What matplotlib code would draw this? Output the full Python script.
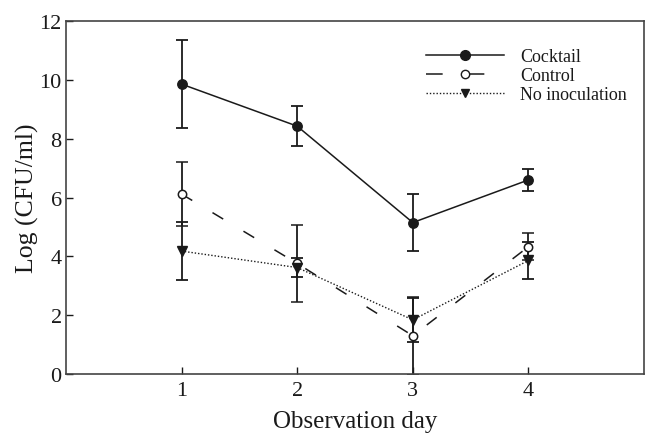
import matplotlib
matplotlib.use("Agg")
from matplotlib import pyplot as plt
from matplotlib.lines import Line2D

plt.rcParams['font.family'] = ['Liberation Serif', 'DejaVu Serif']
plt.rcParams['lines.scale_dashes'] = False

days = [1, 2, 3, 4]

cocktail = [9.86, 8.43, 5.15, 6.60]
cocktail_err = [1.50, 0.68, 0.98, 0.38]

control = [6.12, 3.76, 1.30, 4.33]
control_err = [1.09, 1.31, 1.33, 0.47]

no_inoc = [4.18, 3.62, 1.84, 3.86]
no_inoc_err = [0.99, 0.32, 0.76, 0.63]

labels = ['Cocktail', 'Control', 'No inoculation']

ink = '#1a1a1a'
dash = (0, (9, 17))
dot = (0, (1, 1.4))

fig = plt.figure(figsize=(6.46, 4.35), dpi=100)
ax = fig.add_axes([0.102, 0.138, 0.895, 0.811])

common = dict(color=ink, ecolor=ink, elinewidth=1.3, capsize=4.5, capthick=1.3)

ax.errorbar(days, cocktail, yerr=cocktail_err, fmt='o', linestyle='-', linewidth=1.1,
            markersize=6.8, markerfacecolor=ink, markeredgecolor=ink, **common)
ax.errorbar(days, control, yerr=control_err, fmt='o', linestyle=dash, linewidth=1.1,
            markersize=6.0, markerfacecolor='white', markeredgecolor=ink,
            markeredgewidth=1.1, **common)
ax.errorbar(days, no_inoc, yerr=no_inoc_err, fmt='v', linestyle=dot, linewidth=1.0,
            markersize=6.5, markerfacecolor=ink, markeredgecolor=ink, **common)

ax.set_xlim(0, 5)
ax.set_ylim(0, 12)
ax.set_xticks(days)
ax.set_yticks(range(0, 13, 2))
ax.tick_params(direction='in', length=5, width=1, colors=ink, labelsize=16)
ax.tick_params(axis='y', pad=3)
ax.tick_params(axis='x', pad=5)
for s in ax.spines.values():
    s.set_color('#444444')
    s.set_linewidth(1.2)

ax.set_xlabel('Observation day', fontsize=18, color=ink)
ax.set_ylabel('Log (CFU/ml)', fontsize=18.5, color=ink)
ax.xaxis.set_label_coords(0.5, -0.102)
ax.yaxis.set_label_coords(-0.047, 0.5)

# legend without error bars
handles = [
    Line2D([], [], color=ink, linestyle='-', linewidth=1.1, marker='o', markersize=7,
           markerfacecolor=ink),
    Line2D([], [], color=ink, linestyle=(0, (12, 18)), linewidth=1.1, marker='o',
           markersize=6, markerfacecolor='white'),
    Line2D([], [], color=ink, linestyle=dot, linewidth=1.0, marker='v', markersize=6,
           markerfacecolor=ink),
]
ax.legend(handles, labels, loc='upper left', bbox_to_anchor=(0.595, 0.97),
          frameon=False, fontsize=13, handlelength=4.3, handletextpad=0.9,
          labelspacing=0.12, labelcolor=ink)

fig.savefig('out.png', dpi=100)
